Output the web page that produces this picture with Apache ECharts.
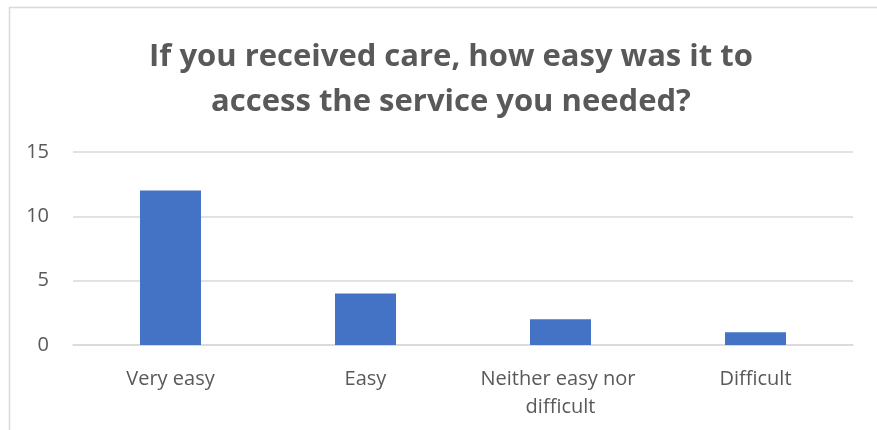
<!DOCTYPE html>
<html>
<head>
<meta charset="utf-8">
<script src="https://cdn.jsdelivr.net/npm/echarts@6/dist/echarts.min.js"></script>
<style>
  html, body { margin: 0; padding: 0; background: #fff; }
  #chart { width: 877px; height: 430px; }
</style>
</head>
<body>
<div id="chart"></div>
<script>
// Survey responses: ease of access to the service
const categories = ['Very easy', 'Easy', 'Neither easy nor difficult', 'Difficult'];
const responses = [12, 4, 2, 1];
const yTicks = [0, 5, 10, 15];

const textColor = '#595959';
const gridColor = '#d9d9d9';
const fontFamily = '"Open Sans", sans-serif';

const chart = echarts.init(document.getElementById('chart'));
chart.setOption({
  backgroundColor: '#fff',
  animation: false,
  title: {
    text: 'If you received care, how easy was it to\naccess the service you needed?',
    left: 446,
    textAlign: 'center',
    top: 30,
    textStyle: {
      color: textColor,
      fontFamily: fontFamily,
      fontWeight: 'bold',
      fontSize: 31,
      lineHeight: 45
    }
  },
  graphic: [{
    type: 'rect',
    shape: { x: 9.5, y: 7.5, width: 900, height: 450 },
    style: { fill: 'none', stroke: gridColor, lineWidth: 1.5 },
    silent: true
  }],
  grid: { left: 73, right: 24, top: 152, bottom: 85 },
  xAxis: {
    type: 'category',
    data: categories,
    axisLine: { lineStyle: { color: gridColor, width: 1.5 } },
    axisTick: { show: false },
    axisLabel: {
      color: textColor,
      fontFamily: fontFamily,
      fontSize: 20,
      margin: 20,
      lineHeight: 28,
      width: 180,
      overflow: 'break',
      interval: 0
    }
  },
  yAxis: {
    type: 'value',
    min: yTicks[0],
    max: yTicks[yTicks.length - 1],
    interval: yTicks[1] - yTicks[0],
    axisLine: { show: false },
    axisTick: { show: false },
    splitLine: { lineStyle: { color: gridColor, width: 1.5 } },
    axisLabel: {
      color: textColor,
      fontFamily: fontFamily,
      fontSize: 20,
      margin: 24
    }
  },
  series: [{
    type: 'bar',
    data: responses,
    barWidth: 61,
    itemStyle: { color: '#4472C4' }
  }]
});
</script>
</body>
</html>
